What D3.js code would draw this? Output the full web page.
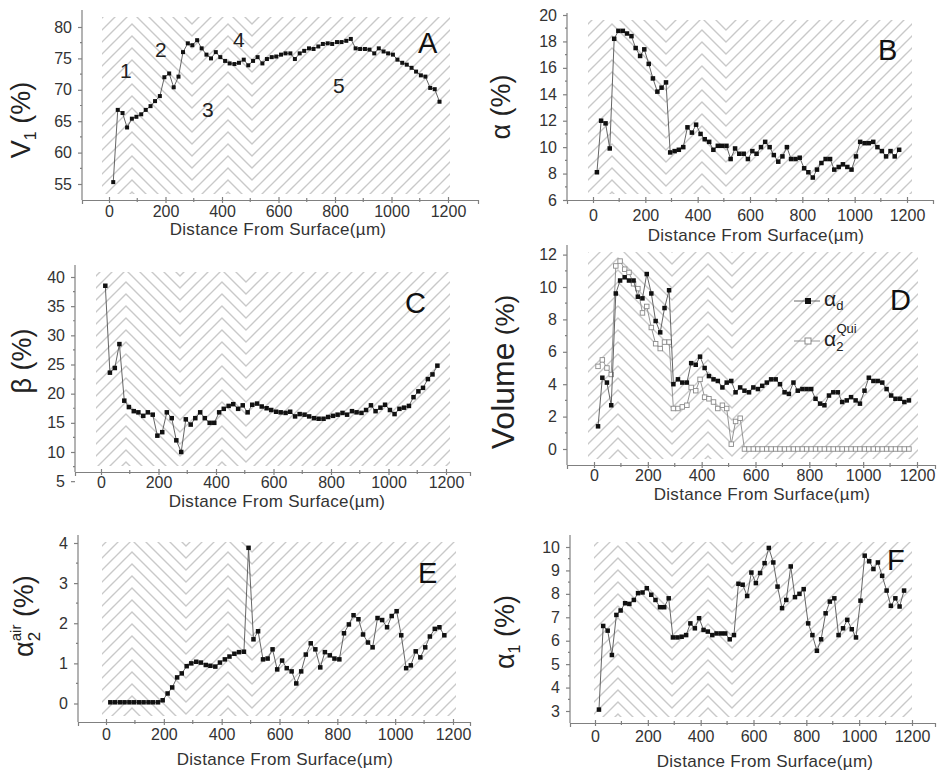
<!DOCTYPE html>
<html lang="en">
<head>
<meta charset="UTF-8">
<title>Depth profiles</title>
<script src="https://d3js.org/d3.v7.min.js"></script>
<style>
  body { margin: 0; background: #fff; }
  svg { display: block; font-family: "Liberation Sans", Arial, sans-serif; }
  .axis path, .axis line { stroke: #808080; stroke-width: 1.2px; }
  .axis text { font-size: 16px; fill: #333; font-family: "Liberation Sans", Arial, sans-serif; }
</style>
</head>
<body>
<script>
// depth of each measurement (µm)
const depth = [15, 31, 48, 64, 81, 97, 114, 130, 147, 163, 180, 196, 213, 229, 246, 262, 279, 295, 312, 328,
  345, 361, 378, 394, 411, 427, 444, 460, 477, 493, 510, 526, 543, 559, 576, 592, 609, 625, 642, 658,
  675, 691, 708, 724, 741, 757, 774, 790, 807, 823, 840, 856, 873, 889, 906, 922, 939, 955, 972, 988,
  1005, 1021, 1038, 1054, 1071, 1087, 1104, 1120, 1137, 1153, 1170];

// A: V1 (%)
const v1 = [55.3, 66.8, 66.3, 64.0, 65.4, 65.7, 66.1, 66.8, 67.4, 68.2, 69.0, 72.0, 72.6, 70.4, 72.1, 76.0, 77.4, 77.1, 77.9, 76.6,
  75.6, 75.0, 76.0, 75.2, 74.6, 74.2, 74.1, 74.3, 74.8, 73.9, 74.6, 75.2, 74.2, 74.9, 75.2, 75.3, 75.6, 75.8, 75.8, 74.9,
  75.8, 76.2, 76.6, 76.5, 76.9, 77.3, 77.4, 77.3, 77.6, 77.6, 77.8, 78.1, 76.6, 76.5, 76.5, 76.4, 75.8, 76.6, 76.1, 75.8,
  75.6, 74.8, 74.3, 74.0, 73.5, 72.9, 72.3, 72.1, 70.3, 70.1, 68.1];

// B: alpha (%)
const alpha = [8.1, 12.0, 11.8, 9.9, 18.2, 18.8, 18.8, 18.6, 18.4, 17.5, 16.9, 17.4, 16.3, 15.2, 14.2, 14.5, 14.9, 9.6, 9.7, 9.8,
  10.0, 11.5, 11.1, 11.7, 11.0, 10.6, 10.4, 9.8, 10.1, 10.1, 10.1, 9.1, 9.9, 9.5, 9.5, 9.1, 9.7, 9.5, 10.0, 10.4,
  10.0, 9.4, 8.9, 9.3, 10.0, 9.1, 9.1, 9.2, 8.4, 8.1, 7.7, 8.3, 8.8, 9.1, 9.1, 8.3, 8.5, 8.7, 8.5, 8.3,
  9.3, 10.4, 10.3, 10.3, 10.4, 10.0, 9.7, 9.3, 9.7, 9.3, 9.8];

// C: beta (%)
const beta = [38.5, 23.6, 24.4, 28.5, 18.8, 17.7, 17.0, 16.8, 16.2, 16.8, 16.4, 12.8, 13.4, 16.8, 15.8, 12.0, 10.0, 15.6, 14.7, 15.8,
  16.8, 15.8, 15.0, 15.0, 16.8, 17.4, 17.9, 18.2, 17.4, 18.0, 16.8, 18.1, 18.3, 17.8, 17.5, 17.2, 16.9, 16.8, 16.7, 16.9,
  16.1, 16.5, 16.4, 16.1, 15.8, 15.7, 15.7, 16.0, 16.2, 16.4, 16.7, 16.4, 17.0, 16.8, 16.7, 17.2, 18.0, 17.0, 17.6, 18.1,
  17.2, 16.5, 17.4, 17.6, 17.9, 19.4, 20.4, 21.0, 22.5, 23.3, 24.8];

// D: volume (%), alpha_d and alpha_2^Qui
const alphaD = [1.4, 4.4, 4.1, 2.7, 9.6, 10.4, 10.6, 10.4, 10.4, 9.4, 9.3, 10.8, 9.6, 7.9, 7.2, 8.7, 9.8, 4.0, 4.3, 4.1,
  4.1, 5.3, 5.2, 5.7, 5.0, 4.5, 4.3, 4.2, 3.8, 4.1, 4.2, 3.5, 3.8, 3.6, 3.5, 3.8, 3.7, 3.9, 4.1, 4.3,
  4.3, 4.0, 3.5, 3.4, 4.1, 3.6, 3.7, 3.7, 3.7, 3.1, 2.8, 2.7, 3.3, 3.5, 3.5, 2.9, 3.0, 3.2, 3.0, 2.8,
  3.6, 4.4, 4.2, 4.2, 4.1, 3.7, 3.3, 3.1, 3.1, 2.9, 3.0];
const alpha2Qui = [5.1, 5.5, 5.0, 4.6, 11.3, 11.6, 11.1, 10.9, 10.2, 9.9, 8.4, 8.8, 7.5, 6.5, 6.2, 6.6, 6.6, 2.5, 2.5, 2.6,
  2.7, 3.8, 3.6, 4.3, 3.2, 3.1, 2.9, 2.5, 2.7, 2.5, 0.3, 1.7, 1.9, 0, 0, 0, 0, 0, 0, 0,
  0, 0, 0, 0, 0, 0, 0, 0, 0, 0, 0, 0, 0, 0, 0, 0, 0, 0, 0, 0,
  0, 0, 0, 0, 0, 0, 0, 0, 0, 0, 0];

// E: alpha_2^air (%)
const alpha2Air = [0.03, 0.03, 0.03, 0.03, 0.03, 0.03, 0.03, 0.03, 0.03, 0.03, 0.03, 0.08, 0.25, 0.4, 0.65, 0.75, 0.93, 1.0, 1.04, 1.02,
  0.96, 0.94, 0.92, 1.02, 1.1, 1.17, 1.24, 1.28, 1.29, 3.88, 1.6, 1.8, 1.1, 1.12, 1.35, 0.85, 1.07, 0.88, 0.8, 0.5,
  0.8, 1.22, 1.5, 1.35, 0.9, 1.28, 1.2, 1.12, 1.1, 1.75, 1.97, 2.2, 2.1, 1.72, 1.52, 1.4, 2.13, 2.08, 1.9, 2.18,
  2.3, 1.7, 0.88, 0.95, 1.3, 1.15, 1.4, 1.67, 1.86, 1.9, 1.7];

// F: alpha_1 (%)
const alpha1 = [3.06, 6.63, 6.43, 5.39, 7.1, 7.29, 7.6, 7.57, 7.74, 8.03, 8.06, 8.24, 7.96, 7.74, 7.43, 7.43, 7.81, 6.14, 6.14, 6.17,
  6.24, 6.74, 6.53, 6.96, 6.46, 6.39, 6.24, 6.31, 6.31, 6.31, 6.06, 6.24, 8.43, 8.39, 7.91, 8.91, 8.46, 8.89, 9.31, 9.96,
  9.34, 8.31, 7.39, 7.74, 9.17, 7.86, 8.0, 8.2, 6.74, 6.24, 5.57, 6.06, 7.17, 7.67, 7.81, 6.24, 6.53, 6.89, 6.49, 6.14,
  7.71, 9.63, 9.39, 9.06, 9.34, 8.77, 8.14, 7.49, 7.81, 7.46, 8.14];

// tick labels
const xTicks = [0, 200, 400, 600, 800, 1000, 1200];
const ticksA = [55, 60, 65, 70, 75, 80];
const ticksB = [6, 8, 10, 12, 14, 16, 18, 20];
const ticksC = [5, 10, 15, 20, 25, 30, 35, 40];
const ticksD = [0, 2, 4, 6, 8, 10, 12];
const ticksE = [0, 1, 2, 3, 4];
const ticksF = [3, 4, 5, 6, 7, 8, 9, 10];

// microstructure zones (µm) used for the hatched background
const zoneEdges = [-15, 80, 285, 420, 510, 1208];
const zoneLabels = ["1", "2", "3", "4", "5"];

const xTitle = "Distance From Surface(\u00b5m)";

const svg = d3.select("body").append("svg").attr("width", 944).attr("height", 776);
const defs = svg.append("defs");

// two hatch directions, 12px period so chevrons meet on multiples of 6
const P = 12;
[["fwd", `M0,${P} L${P},0 M-2,2 L2,-2 M${P - 2},${P + 2} L${P + 2},${P - 2}`],
 ["back", `M0,0 L${P},${P} M-2,${P - 2} L2,${P + 2} M${P - 2},-2 L${P + 2},2`]]
  .forEach(([id, d]) => {
    defs.append("pattern").attr("id", id)
      .attr("patternUnits", "userSpaceOnUse")
      .attr("width", P).attr("height", P)
      .append("path").attr("d", d)
      .attr("stroke", "#c9c9c9").attr("stroke-width", 1.4);
  });

const fmt = d3.format("d");

const panels = [
  { letter: "A", letterAt: [418, 53], left: 82, right: 478, top: 10, bottom: 200, x0: 109, x1200: 448,
    yCal: [55, 184, 80, 27], yTicks: ticksA, xLab: 17, titleAt: [278, 235], mark: 4,
    yTitle: { at: [30, 120], parts: [["V", 27, 0], ["1", 16, 6], [" (%)", 27, 0]] },
    series: [{ values: v1, hollow: false }] },
  { letter: "B", letterAt: [878, 60], left: 567, right: 933, top: 13, bottom: 200, x0: 593, x1200: 907,
    yCal: [6, 200, 20, 15], yTicks: ticksB, xLab: 21, titleAt: [756, 241], mark: 4.5,
    yTitle: { at: [510, 107], parts: [["\u03b1 (%)", 27, 0]] },
    series: [{ values: alpha, hollow: false }] },
  { letter: "C", letterAt: [405, 313], left: 75, right: 470, top: 265, bottom: 472, x0: 101, x1200: 446,
    yCal: [10, 452, 40, 277], yTicks: ticksC, xLab: 16, titleAt: [277, 507], mark: 4.5,
    yTitle: { at: [31, 361], parts: [["\u03b2 (%)", 27, 0]] },
    series: [{ values: beta, hollow: false }] },
  { letter: "D", letterAt: [890, 310], left: 567, right: 935, top: 245, bottom: 465, x0: 594, x1200: 917,
    yCal: [0, 449, 10, 287], yTicks: ticksD, xLab: 16, titleAt: [762, 500], mark: 4.5,
    yTitle: { at: [514, 372], parts: [["Volume", 32, 0], [" (%)", 26, 0]] },
    series: [{ values: alpha2Qui, hollow: true }, { values: alphaD, hollow: false }] },
  { letter: "E", letterAt: [418, 583], left: 78, right: 470, top: 535, bottom: 722, x0: 106, x1200: 453,
    yCal: [0, 703.5, 4, 543], yTicks: ticksE, xLab: 18, titleAt: [285, 765], mark: 4.5,
    yTitle: { at: [33, 616], parts: [["\u03b1", 27, 0], ["2", 17, 7], ["air", 15, -12, -9.5], [" (%)", 27, 0]] },
    series: [{ values: alpha2Air, hollow: false }] },
  { letter: "F", letterAt: [887, 570], left: 570, right: 935, top: 535, bottom: 723, x0: 595, x1200: 912,
    yCal: [3, 711, 10, 547], yTicks: ticksF, xLab: 19, titleAt: [765, 767], mark: 4.5,
    yTitle: { at: [514, 632], parts: [["\u03b1", 27, 0], ["1", 16, 6], [" (%)", 27, 0]] },
    series: [{ values: alpha1, hollow: false }] }
];

// text with sub/superscripts: [text, size, baseline shift, dx]
function richText(sel, parts) {
  let cur = 0;
  parts.forEach(([t, size, shift, dx]) => {
    const ts = sel.append("tspan").text(t).attr("font-size", size).attr("dy", shift - cur);
    if (dx) ts.attr("dx", dx);
    cur = shift;
  });
}

const snap = v => Math.round(v / (P / 2)) * (P / 2);

function drawPanel(p) {
  const g = svg.append("g");
  const x = d3.scaleLinear().domain([0, 1200]).range([p.x0, p.x1200]);
  x.domain([x.invert(p.left), x.invert(p.right)]).range([p.left, p.right]);
  const y = d3.scaleLinear().domain([p.yCal[0], p.yCal[2]]).range([p.yCal[1], p.yCal[3]]);

  // hatched zones
  const hTop = p.top + 7, hBot = p.bottom - 6;
  for (let i = 0; i < zoneEdges.length - 1; i++) {
    const x1 = snap(x(zoneEdges[i])), x2 = snap(x(zoneEdges[i + 1]));
    g.append("rect").attr("x", x1).attr("y", hTop)
      .attr("width", x2 - x1).attr("height", hBot - hTop)
      .attr("fill", i % 2 === 0 ? "url(#fwd)" : "url(#back)");
  }

  // x axis
  const xMinor = d3.range(100, 1300, 200);
  const xa = g.append("g").attr("class", "axis").attr("transform", `translate(0,${p.bottom})`)
    .call(d3.axisBottom(x).tickValues(xTicks).tickFormat(fmt).tickSizeOuter(0).tickSize(4));
  xa.selectAll(".tick line").attr("y1", -3).attr("y2", 3);
  xa.selectAll(".tick text").attr("y", p.xLab).attr("dy", 0);
  xa.selectAll(".minor").data(xMinor).join("line").attr("class", "minor")
    .attr("x1", d => x(d)).attr("x2", d => x(d)).attr("y1", -2).attr("y2", 2);

  // y axis
  const ya = g.append("g").attr("class", "axis").attr("transform", `translate(${p.left},0)`)
    .call(d3.axisLeft(y).tickValues(p.yTicks).tickFormat(fmt).tickSizeOuter(0).tickSize(4).tickPadding(6));
  ya.select(".domain").attr("d", `M0,${p.top}V${p.bottom}`);
  const yMinor = d3.pairs(p.yTicks).map(([a, b]) => (a + b) / 2);
  ya.selectAll(".minor").data(yMinor).join("line").attr("class", "minor")
    .attr("x1", -2).attr("x2", 0).attr("y1", d => y(d)).attr("y2", d => y(d));

  // series
  p.series.forEach(s => {
    const pts = depth.map((d, i) => [d, s.values[i]]);
    g.append("path").datum(pts)
      .attr("d", d3.line().x(d => x(d[0])).y(d => y(d[1])))
      .attr("fill", "none")
      .attr("stroke", s.hollow ? "#8a8a8a" : "#555")
      .attr("stroke-width", 0.9);
    g.selectAll(null).data(pts).join("rect")
      .attr("x", d => x(d[0]) - p.mark / 2).attr("y", d => y(d[1]) - p.mark / 2)
      .attr("width", p.mark).attr("height", p.mark)
      .attr("fill", s.hollow ? "#fff" : "#111")
      .attr("stroke", s.hollow ? "#8a8a8a" : "none")
      .attr("stroke-width", 0.9);
  });

  // titles
  g.append("text").attr("x", p.titleAt[0]).attr("y", p.titleAt[1])
    .attr("text-anchor", "middle").attr("font-size", 17).attr("letter-spacing", 0.3)
    .attr("fill", "#333").text(xTitle);

  const yt = g.append("text")
    .attr("transform", `translate(${p.yTitle.at[0]},${p.yTitle.at[1]}) rotate(-90)`)
    .attr("text-anchor", "middle").attr("fill", "#222");
  richText(yt.append("tspan").attr("dy", "0.35em"), p.yTitle.parts);

  g.append("text").attr("x", p.letterAt[0]).attr("y", p.letterAt[1])
    .attr("font-size", 29).attr("fill", "#111").text(p.letter);

  return { g, x, y };
}

const drawn = panels.map(drawPanel);

// zone numbers in panel A
const zoneLabelAt = [[120, 78], [155, 57], [202, 117], [233, 47], [333, 93]];
drawn[0].g.selectAll(".zone").data(zoneLabels).join("text").attr("class", "zone")
  .attr("x", (d, i) => zoneLabelAt[i][0]).attr("y", (d, i) => zoneLabelAt[i][1])
  .attr("font-size", 21).attr("fill", "#222").text(d => d);

// legend in panel D
const legend = [
  { hollow: false, y: 301, parts: [["\u03b1", 21, 0], ["d", 13, 4]] },
  { hollow: true, y: 341, parts: [["\u03b1", 21, 0], ["2", 13, 5], ["Qui", 13, -13, -7]] }
];
const lg = drawn[3].g.append("g");
legend.forEach(l => {
  lg.append("line").attr("x1", 794).attr("x2", 820).attr("y1", l.y).attr("y2", l.y)
    .attr("stroke", l.hollow ? "#8a8a8a" : "#555").attr("stroke-width", 0.9);
  lg.append("rect").attr("x", 805).attr("y", l.y - 3).attr("width", 6).attr("height", 6)
    .attr("fill", l.hollow ? "#fff" : "#111")
    .attr("stroke", l.hollow ? "#8a8a8a" : "none");
  richText(lg.append("text").attr("x", 824).attr("y", l.y + 5).attr("fill", "#222"), l.parts);
});
</script>
</body>
</html>
